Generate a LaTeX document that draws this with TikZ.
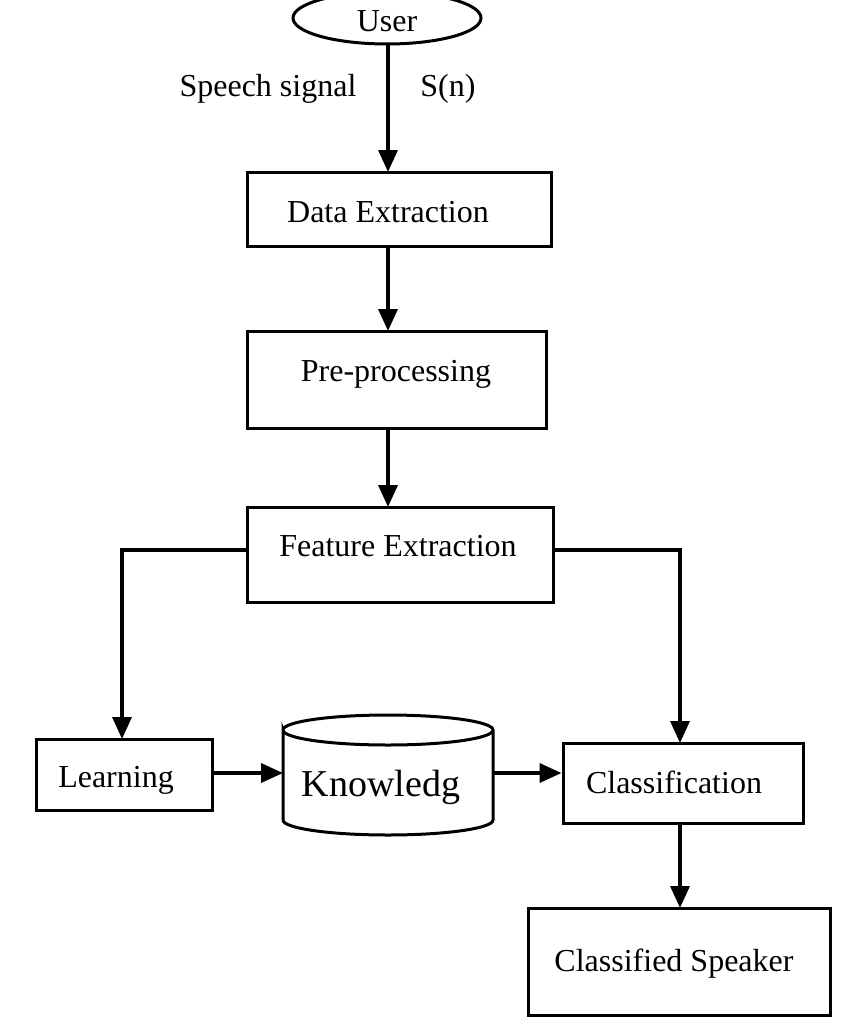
\documentclass[tikz,border=0pt]{standalone}
\usepackage{fontspec}
\setmainfont{Liberation Serif}
\usetikzlibrary{arrows.meta,shapes.geometric}
\begin{document}
\begin{tikzpicture}[x=1pt,y=-1pt,
  box/.style={draw,line width=3pt,rectangle,inner sep=0pt},
  lbl/.style={font=\fontsize{32}{36}\selectfont,inner sep=0pt,anchor=base},
  con/.style={line width=3.5pt,-{Triangle[length=22pt,width=19pt]}}]
\useasboundingbox (0,0) rectangle (862,1028);
\node[draw,line width=3pt,ellipse,minimum width=188pt,minimum height=52pt,inner sep=0pt] (user) at (387,18) {};
\node[lbl] (usert) at (387,31) {User};
\node[lbl] (sp) at (268,96) {Speech signal};
\node[lbl] (sn) at (448,96) {S(n)};
\node[box,minimum width=304pt,minimum height=74pt] (de) at (399,209) {};
\node[lbl] at (388,222) {Data Extraction};
\node[box,minimum width=299pt,minimum height=97pt] (pp) at (396.5,379.5) {};
\node[lbl] at (396,381) {Pre-processing};
\node[box,minimum width=306pt,minimum height=95pt] (fe) at (400,554.5) {};
\node[lbl] at (398,556) {Feature Extraction};
\node[box,minimum width=176pt,minimum height=71pt] (le) at (124,774.5) {};
\node[lbl] at (116,787) {Learning};
\coordinate (kn) at (388,775);
\draw[line width=3pt] (283,730) arc[start angle=180,end angle=540,x radius=105,y radius=15]
  -- (283,820) arc[start angle=180,end angle=360,x radius=105,y radius=-15] -- (493,730);
\node[lbl,font=\fontsize{38}{42}\selectfont] at (381,796) {Knowledg};
\node[box,minimum width=240pt,minimum height=80pt] (cl) at (683,783) {};
\node[lbl] at (674,793) {Classification};
\node[box,minimum width=302pt,minimum height=107pt] (cs) at (679,961.5) {};
\node[lbl] at (674,971) {Classified Speaker};
\draw[con] (388,44) -- (388,172);
\draw[con] (388,246) -- (388,331);
\draw[con] (388,428) -- (388,507);
\draw[con] (fe.west |- 0,550) -- (122,550) -- (122,739);
\draw[con] (fe.east |- 0,550) -- (680,550) -- (680,743);
\draw[con] (le.east |- 0,773) -- (283,773);
\draw[con] (493,773) -- (cl.west |- 0,773);
\draw[con] (680,823) -- (680,908);
\end{tikzpicture}
\end{document}
